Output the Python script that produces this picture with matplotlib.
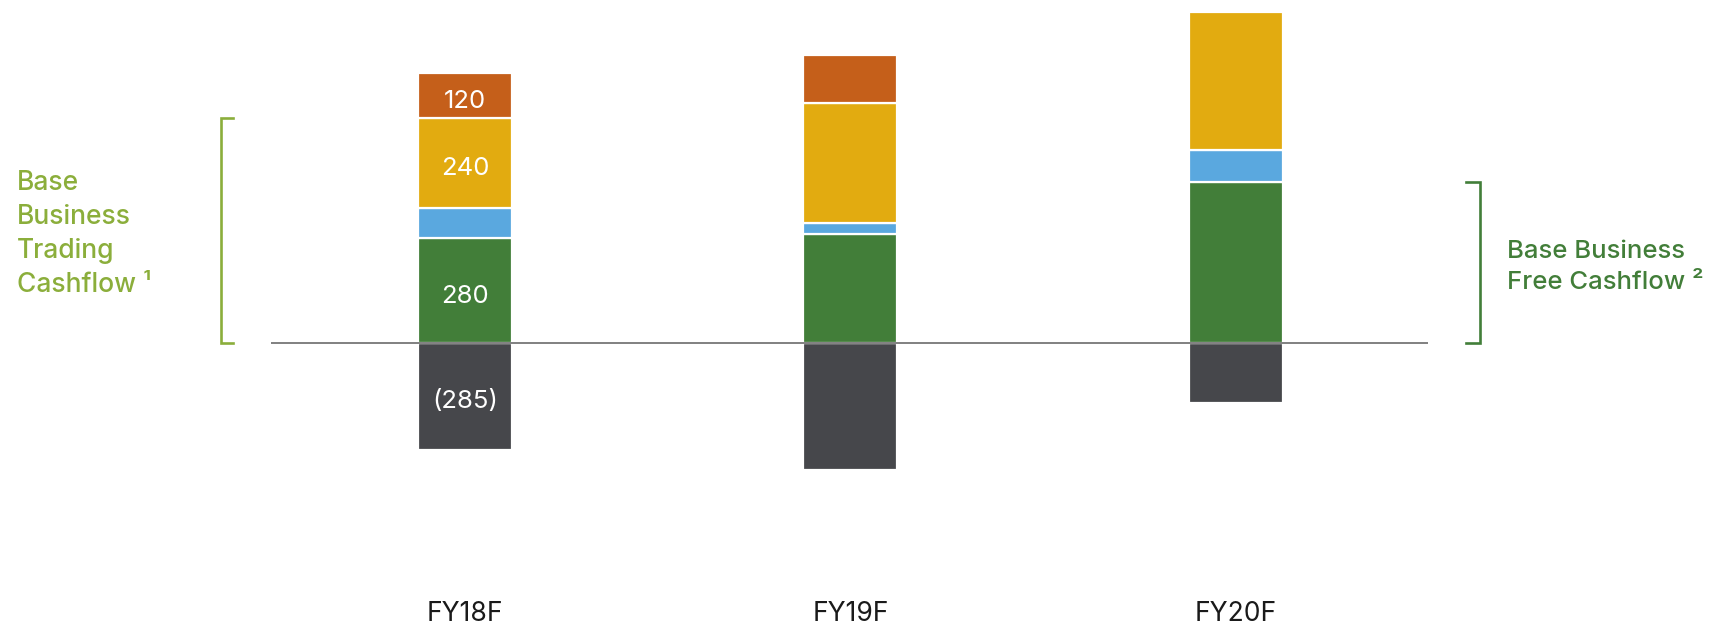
import matplotlib
matplotlib.use("Agg")
import matplotlib.pyplot as plt
import matplotlib.transforms as mtransforms
import numpy as np

plt.rcParams['font.family'] = ['Inter', 'DejaVu Sans']

# Data (A$m)
years = ["FY18F", "FY19F", "FY20F"]
capex = [-285, -340, -160]            # below the axis
free_cashflow = [280, 290, 430]       # base business free cashflow
working_cap = [80, 30, 85]
other_items = [240, 320, 370]
one_offs = [120, 130, 0]
value_labels_year = "FY18F"

colors = {
    "capex": "#46474B",
    "free": "#427E39",
    "wc": "#5AA8DF",
    "other": "#E2AB10",
    "oneoff": "#C55F1A",
}
bracket_left_color = "#8BAE3B"
bracket_right_color = "#427E39"

W, H, DPI = 1724, 625, 100
fig = plt.figure(figsize=(W / DPI, H / DPI), dpi=DPI)
ax = fig.add_axes([0, 0, 1, 1])
ax.set_xlim(-1.206, 3.266)
ax.set_ylim(-753, 916)
ax.axis("off")

x = np.arange(len(years))
bw = 0.244
edge = dict(edgecolor="white", linewidth=1.6)

ax.bar(x, capex, bw, color=colors["capex"], **edge, zorder=2)
bottom = np.zeros(len(years))
stack = [(free_cashflow, "free"), (working_cap, "wc"), (other_items, "other"), (one_offs, "oneoff")]
segments = {}
for vals, key in stack:
    vals = np.array(vals, dtype=float)
    mask = vals > 0
    ax.bar(x[mask], vals[mask], bw, bottom=bottom[mask], color=colors[key], **edge, zorder=2)
    segments[key] = (bottom.copy(), vals)
    bottom = bottom + vals

# zero line across the categories
ax.plot([-0.502, 2.498], [0, 0], color="#808080", lw=1.4, zorder=3, solid_capstyle="butt")

# value labels on the first year
i = years.index(value_labels_year)
lab_tr = mtransforms.offset_copy(ax.transData, fig=fig, x=0, y=-4, units="points")
lab_kw = dict(color="white", fontsize=18.5, ha="center", va="center", zorder=4, transform=lab_tr)
ax.text(x[i], capex[i] / 2, f"({abs(capex[i])})", **lab_kw)
for key in ["free", "other", "oneoff"]:
    b, v = segments[key]
    ax.text(x[i], b[i] + v[i] / 2, f"{int(v[i])}", **lab_kw)

# category labels
for xi, name in zip(x, years):
    ax.text(xi, 4 / H, name, transform=ax.get_xaxis_transform(), ha="center",
            va="baseline", fontsize=19, color="#1a1a1a")

# left bracket: trading cashflow of the first year
trading_top = free_cashflow[0] + working_cap[0] + other_items[0]
lx0, lx1 = -0.633, -0.602
ax.plot([lx1, lx0, lx0, lx1], [trading_top, trading_top, 0, 0],
        color=bracket_left_color, lw=1.9, solid_joinstyle="miter", zorder=3)

# right bracket: free cashflow of the last year
free_top = free_cashflow[-1]
rx0, rx1 = 2.598, 2.633
ax.plot([rx0, rx1, rx1, rx0], [free_top, free_top, 0, 0],
        color=bracket_right_color, lw=1.9, solid_joinstyle="miter", zorder=3)

fig.text(17 / W, 1 - 234 / H, "Base\nBusiness\nTrading\nCashflow \u00b9",
         color=bracket_left_color, fontsize=19, fontweight="medium",
         ha="left", va="center", linespacing=1.39)
fig.text(1507 / W, 1 - 267 / H, "Base Business\nFree Cashflow \u00b2",
         color=bracket_right_color, fontsize=18.5, fontweight="medium",
         ha="left", va="center", linespacing=1.45)

fig.savefig("out.png", dpi=DPI)
